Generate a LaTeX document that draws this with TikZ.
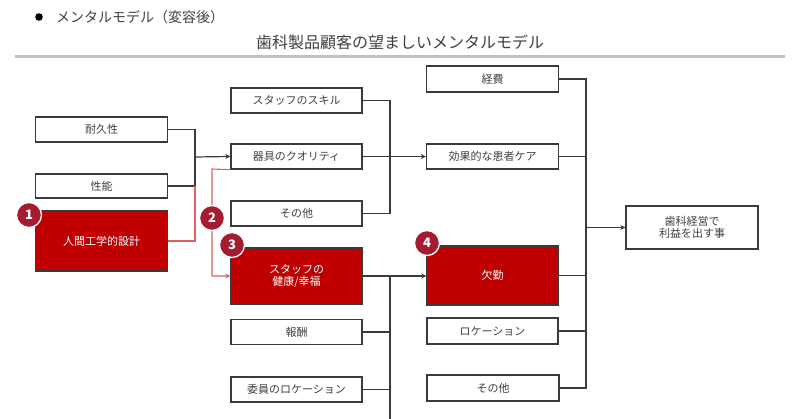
\documentclass[tikz,border=0pt]{standalone}
\usepackage{fontspec}
\setmainfont{Noto Sans CJK JP}
\usetikzlibrary{arrows.meta}
\definecolor{boxred}{HTML}{C00000}
\definecolor{badgered}{HTML}{A51C30}
\definecolor{linered}{HTML}{E06060}
\definecolor{txtgray}{HTML}{404040}
\definecolor{edgegray}{HTML}{3A3A3A}
\definecolor{rulegray}{HTML}{C0C0C0}
\tikzset{
  wbox/.style={draw=edgegray, line width=1.4pt, fill=white, text=txtgray,
    font=\fontsize{11}{12.5}\selectfont, inner sep=0pt, align=center},
  rbox/.style={wbox, fill=boxred, text=white},
  badge/.style={circle, draw=white, line width=1.3pt, fill=badgered, text=white,
    font=\fontsize{13}{13}\selectfont\bfseries, inner sep=0pt, minimum size=25pt},
  conn/.style={draw=edgegray, line width=1.2pt},
  arr/.style={conn, -{Stealth[length=5pt,width=5pt]}},
  rconn/.style={draw=linered, line width=1.1pt},
  rarr/.style={rconn, -{Stealth[length=5pt,width=5pt]}},
}
\begin{document}
\begin{tikzpicture}[x=1pt,y=-1pt]
\useasboundingbox (0,0) rectangle (800,419);
% header
\fill[black] (39,17) circle (3.8pt);
\node[anchor=west, text=txtgray, font=\fontsize{14}{15}\selectfont, inner sep=0pt] (hdr) at (56,17) {メンタルモデル（変容後）};
\node[text=txtgray, font=\fontsize{16}{17}\selectfont, inner sep=0pt] (title) at (400,42) {歯科製品顧客の望ましいメンタルモデル};
\draw[rulegray, line width=3pt] (15,57) -- (785,57);

% left column
\node[wbox, minimum width=132pt, minimum height=25pt] (taikyu) at (101.5,129.5) {耐久性};
\node[wbox, minimum width=132pt, minimum height=24pt] (seino) at (101.5,186) {性能};
\node[rbox, minimum width=132pt, minimum height=60pt] (ningen) at (101.5,241) {人間工学的設計};

% middle column
\node[wbox, minimum width=131pt, minimum height=25pt] (skill) at (296.5,100.5) {スタッフのスキル};
\node[wbox, minimum width=131pt, minimum height=25pt] (kigu) at (296.5,156.5) {器具のクオリティ};
\node[wbox, minimum width=131pt, minimum height=25pt] (sonota1) at (296.5,213.5) {その他};
\node[rbox, minimum width=131pt, minimum height=56pt] (kenko) at (296.5,276) {スタッフの\\健康/幸福};
\node[wbox, minimum width=131pt, minimum height=25pt] (hoshu) at (296.5,332) {報酬};
\node[wbox, minimum width=131pt, minimum height=25pt] (iin) at (296.5,389.5) {委員のロケーション};

% right column
\node[wbox, minimum width=132pt, minimum height=26pt] (keihi) at (492.5,79) {経費};
\node[wbox, minimum width=132pt, minimum height=25pt] (koka) at (492.5,156.5) {効果的な患者ケア};
\node[rbox, minimum width=131pt, minimum height=59pt] (kekkin) at (492.5,275.5) {欠勤};
\node[wbox, minimum width=131pt, minimum height=26pt] (location) at (492.5,331) {ロケーション};
\node[wbox, minimum width=132pt, minimum height=26pt] (sonota2) at (493,388) {その他};

% goal
\node[wbox, minimum width=132pt, minimum height=43pt] (rieki) at (692,227.5) {歯科経営で\\利益を出す事};

% junctions
\coordinate (j1) at (195,157);
\coordinate (j1b) at (195,186);
\coordinate (r2) at (212,169);
\coordinate (j2) at (390,157);
\coordinate (j3) at (390,276);
\coordinate (j3b) at (390,421);
\coordinate (j4) at (586,227.5);

% connectors
\draw[conn] (taikyu.east) -| (j1);
\draw[conn] (seino.east) -| (j1);
\draw[arr] (j1) -- (kigu.west);
\draw[rconn] (ningen.east) -| (j1b);
\draw[rarr] (kigu.south west) -- (r2) |- (kenko.west);

\draw[conn] (skill.east) -| (j2);
\draw[conn] (sonota1.east) -| (j2);
\draw[arr] (kigu.east) -- (koka.west);

\draw[arr] (kenko.east) -- (kenko.east -| kekkin.west);
\draw[conn] (j3) -- (j3b);
\draw[conn] (hoshu.east) -- (hoshu.east -| j3);
\draw[conn] (iin.east) -- (iin.east -| j3);

\draw[conn] (keihi.east) -| (j4);
\draw[conn] (sonota2.east) -| (j4);
\draw[conn] (koka.east) -- (koka.east -| j4);
\draw[conn] (kekkin.east) -- (kekkin.east -| j4);
\draw[conn] (location.east) -- (location.east -| j4);
\draw[arr] (j4) -- (rieki.west);

% badges
\node[badge] (b1) at (29,215) {1};
\node[badge] (b2) at (212,218) {2};
\node[badge] (b3) at (232,245) {3};
\node[badge] (b4) at (427,243) {4};
\end{tikzpicture}
\end{document}
